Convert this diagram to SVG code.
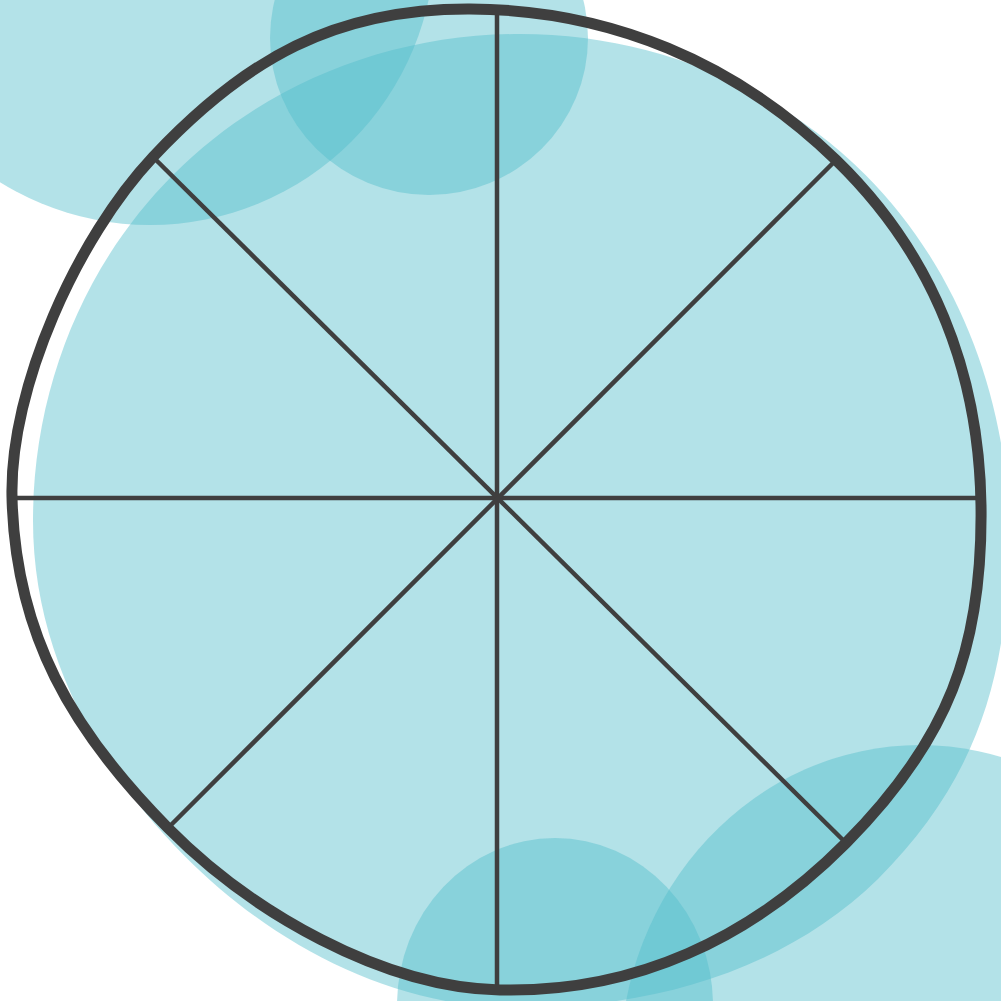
<svg xmlns="http://www.w3.org/2000/svg" width="1001" height="1001" viewBox="0 0 1001 1001">
  <style>
    .blob { fill: #52bdca; fill-opacity: 0.44; }
    .ring { fill: none; stroke: #3f3f3f; stroke-width: 11; stroke-linejoin: round; }
    .spoke { stroke: #3f3f3f; stroke-width: 4.5; stroke-linecap: butt; }
  </style>
  <rect width="1001" height="1001" fill="#ffffff"/>
  <g id="background-blobs">
    <path id="big-blob" class="blob" d="M 1009,535 C 1009,675 977,780 878,879 C 784,971 651.1,1008 520,1008 C 392.6,1008 274.9,946.3 184.8,856.2 C 94.7,766.1 33,648.4 33,521 C 33,391.4 81.9,266.1 173.5,174.5 C 265.1,82.9 390.4,34 520,34 C 649.4,34 774.3,83.7 865.8,175.2 C 957.4,266.8 1009,400 1009,535 Z"/>
    <ellipse id="blob-top-left" class="blob" cx="150" cy="-60" rx="285" ry="285"/>
    <ellipse id="blob-top-middle" class="blob" cx="429" cy="38" rx="159" ry="157"/>
    <ellipse id="blob-bottom-middle" class="blob" cx="555" cy="1005" rx="158" ry="167"/>
    <ellipse id="blob-bottom-right" class="blob" cx="920" cy="1065" rx="300" ry="320"/>
  </g>
  <g id="spokes">
    <line class="spoke" x1="497" y1="14" x2="497" y2="985"/>
    <line class="spoke" x1="17" y1="498" x2="977" y2="498"/>
    <line class="spoke" x1="153" y1="157" x2="846" y2="843"/>
    <line class="spoke" x1="836" y1="160" x2="168" y2="828"/>
  </g>
  <g id="wheel-ring">
    <path class="ring" d="M 981,505 C 983.1,649 947.5,740.8 846,843 C 750.9,938.8 635,993 500,990 C 382,987.4 251,911.9 168,828 C 71.6,730.6 15.1,634 12,497 C 9.5,387 77.7,237.2 153,157 C 245.4,58.6 335,8.4 470,9 C 610,9.6 735.5,62.5 836,160 C 932.2,253.3 979,371 981,505 Z"/>
  </g>
</svg>
